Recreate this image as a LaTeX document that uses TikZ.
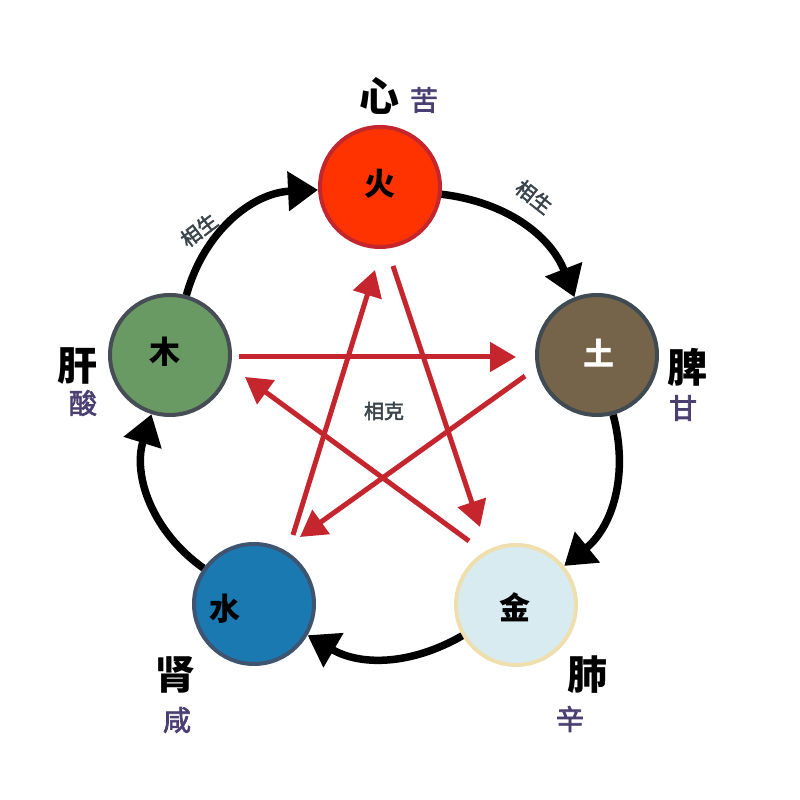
\documentclass[tikz,border=0pt]{standalone}
\usepackage{fontspec}
\newfontfamily\cjk{Noto Sans CJK SC}
\newfontfamily\cjkmed[FakeBold=2.5]{Noto Sans CJK SC}
\usetikzlibrary{arrows.meta,calc}
\definecolor{huofill}{HTML}{FF3300}
\definecolor{huoline}{HTML}{C4262E}
\definecolor{mufill}{HTML}{6A9A64}
\definecolor{muline}{HTML}{474D55}
\definecolor{tufill}{HTML}{75644A}
\definecolor{tuline}{HTML}{3F4A52}
\definecolor{jinfill}{HTML}{D8EBF1}
\definecolor{jinline}{HTML}{F0DFAE}
\definecolor{shuifill}{HTML}{1A79B1}
\definecolor{shuiline}{HTML}{3E5470}
\definecolor{kered}{HTML}{C5252C}
\definecolor{tastecol}{HTML}{4B3F72}
\definecolor{notecol}{HTML}{3A444C}
\tikzset{
  elem/.style={circle,minimum size=120pt,inner sep=0pt,line width=4pt},
  elemtext/.style={font=\cjk\bfseries\fontsize{31}{31}\selectfont,inner sep=0pt},
  organ/.style={font=\cjk\bfseries\fontsize{40}{40}\selectfont,inner sep=0pt},
  taste/.style={font=\cjkmed\fontsize{28}{28}\selectfont,text=tastecol,inner sep=0pt},
  note/.style={font=\cjkmed\fontsize{20}{20}\selectfont,text=notecol,inner sep=0pt},
  sheng/.style={line width=7.5pt,-{Triangle[length=30pt,width=38pt]}},
  ke/.style={line width=5pt,draw=kered,-{Triangle[length=26pt,width=29pt]}}
}
\begin{document}
\begin{tikzpicture}[x=1pt,y=1pt]
\fill[white] (0,0) rectangle (800,800);
\useasboundingbox (0,0) rectangle (800,800);
% element circles
\node[elem,fill=huofill,draw=huoline] (huo) at (380,613) {};
\node[elem,fill=tufill,draw=tuline] (tu) at (597,445) {};
\node[elem,fill=jinfill,draw=jinline] (jin) at (516,195) {};
\node[elem,fill=shuifill,draw=shuiline] (shui) at (254,196) {};
\node[elem,fill=mufill,draw=muline] (mu) at (170,445) {};
% element texts
\node[elemtext] (thuo) at (380,616) {火};
\node[elemtext,text=white] (ttu) at (599,447) {土};
\node[elemtext] (tjin) at (515,193) {金};
\node[elemtext] (tshui) at (225,191) {水};
\node[elemtext] (tmu) at (165,448) {木};
% organs and tastes
\node[organ] (xin) at (379,704) {心};
\node[taste] (ku) at (424,700) {苦};
\node[organ] (gan) at (77,434) {肝};
\node[taste] (suan) at (83,397) {酸};
\node[organ] (pi) at (687,433) {脾};
\node[taste] (gantaste) at (683,392) {甘};
\node[organ] (shen) at (175,125) {肾};
\node[taste] (xian) at (177,80) {咸};
\node[organ] (fei) at (587,125) {肺};
\node[taste] (xinw) at (570,81) {辛};
% sheng cycle
\draw[sheng] (huo) to[bend left=31] (tu);
\draw[sheng] (tu) to[bend left=33] (jin);
\draw[sheng] (jin) to[bend left=30] (shui);
\draw[sheng] (shui) to[bend left=36] (mu);
\draw[sheng] (mu) to[bend left=36] (huo);
\node[note,rotate=-38] (sheng1) at (534,603) {相生};
\node[note,rotate=37] (sheng2) at (199,570) {相生};
% ke cycle
\draw[ke] ($(mu)+(69,-2)$) -- ($(tu)+(-81,-2)$);
\draw[ke] ($(tu)+(-72,-21)$) -- ($(shui)+(46,67)$);
\draw[ke] ($(shui)+(39,69)$) -- ($(huo)+(-5,-83)$);
\draw[ke] ($(huo)+(13,-79)$) -- ($(jin)+(-36,78)$);
\draw[ke] ($(jin)+(-47,64)$) -- ($(mu)+(75,-22)$);
\node[note] (kelabel) at (384,389) {相克};
\end{tikzpicture}
\end{document}
